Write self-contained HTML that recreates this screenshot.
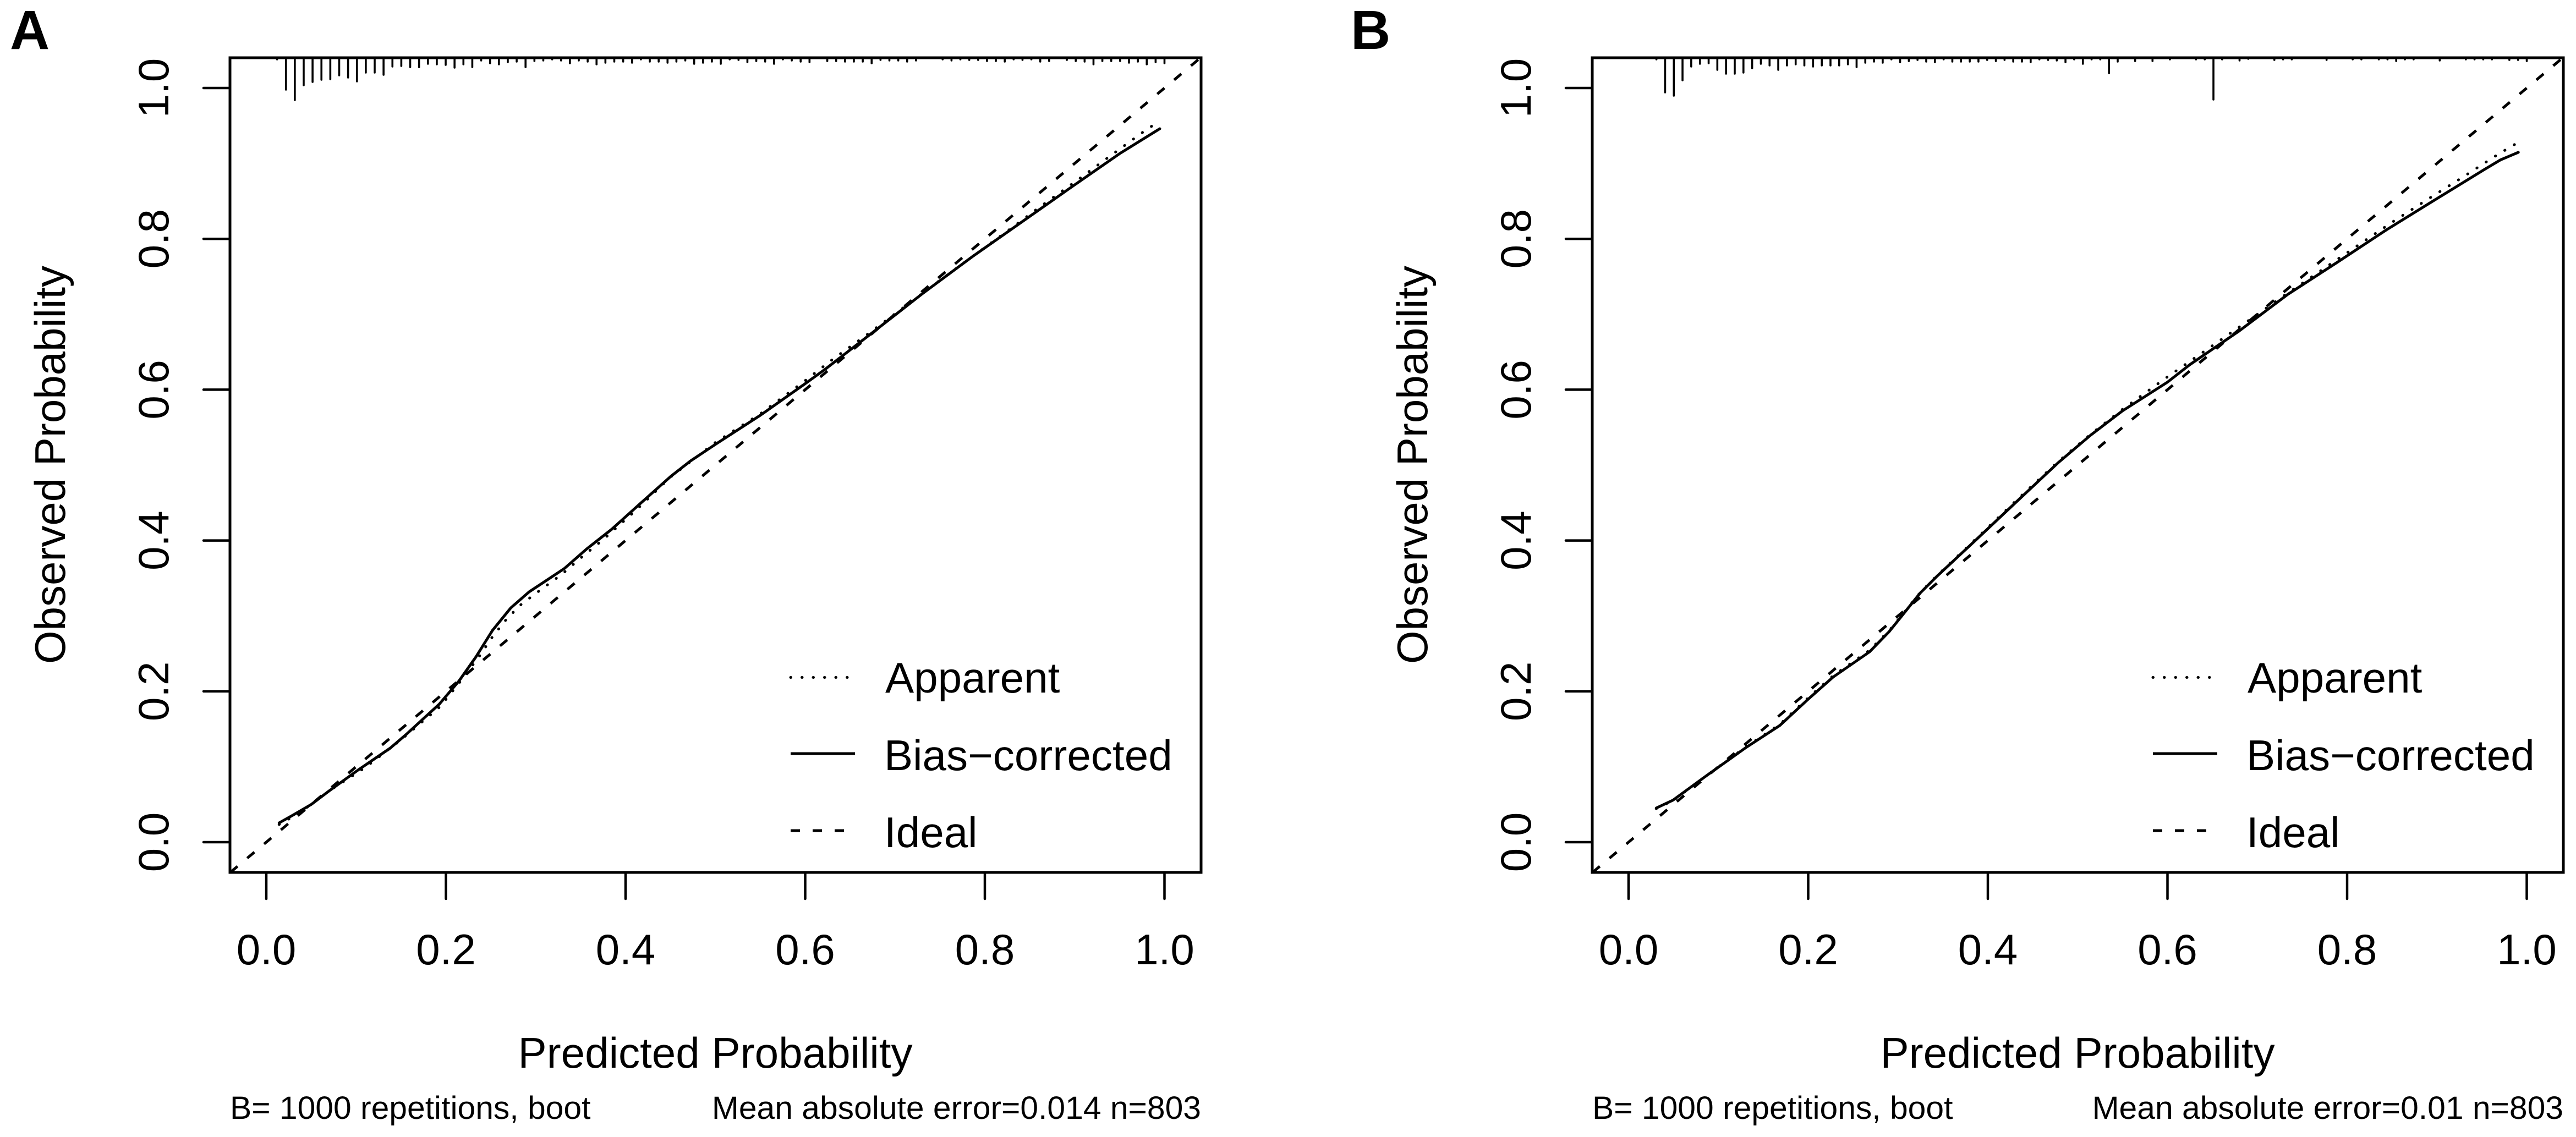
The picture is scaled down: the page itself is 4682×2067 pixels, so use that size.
<!DOCTYPE html>
<html lang="en">
<head>
<meta charset="utf-8">
<title>Calibration curves A and B</title>
<style>
  html, body { margin: 0; padding: 0; background: #fff; }
  svg { display: block; }
  text { font-family: "Liberation Sans", Arial, sans-serif; fill: #000; }
</style>
</head>
<body>
<svg id="chart" xmlns="http://www.w3.org/2000/svg" width="4682" height="2067" viewBox="0 0 4682 2067">
  <rect x="0" y="0" width="4682" height="2067" fill="#fff"/>

  <text x="18" y="89" font-size="100" font-weight="700">A</text>
  <g id="panel-a">
    <text x="1300" y="1941" font-size="78.2" text-anchor="middle">Predicted Probability</text>
    <text transform="translate(118 845) rotate(-90)" font-size="78" text-anchor="middle">Observed Probability</text>
    <text x="418" y="2034" font-size="58.8">B= 1000 repetitions, boot</text>
    <text x="2183" y="2034" font-size="58.8" text-anchor="end">Mean absolute error=0.014 n=803</text>
    <g>
      <line x1="1437" x2="1554" y1="1231.5" y2="1231.5" stroke="#000" stroke-width="5" stroke-linecap="round" stroke-dasharray="0.5 20"/>
      <text x="1609" y="1259" font-size="78.2">Apparent</text>
      <line x1="1437" x2="1554" y1="1370" y2="1370" stroke="#000" stroke-width="5"/>
      <text x="1607" y="1400" font-size="78.2">Bias−corrected</text>
      <line x1="1437" x2="1554" y1="1510" y2="1510" stroke="#000" stroke-width="5" stroke-dasharray="17 23"/>
      <text x="1607" y="1540" font-size="78.2">Ideal</text>
    </g>
  </g>

  <text x="2455" y="89" font-size="100" font-weight="700">B</text>
  <g id="panel-b" transform="translate(2476 0)">
    <text x="1300" y="1941" font-size="78.2" text-anchor="middle">Predicted Probability</text>
    <text transform="translate(118 845) rotate(-90)" font-size="78" text-anchor="middle">Observed Probability</text>
    <text x="418" y="2034" font-size="58.8">B= 1000 repetitions, boot</text>
    <text x="2183" y="2034" font-size="58.8" text-anchor="end">Mean absolute error=0.01 n=803</text>
    <g>
      <line x1="1437" x2="1554" y1="1231.5" y2="1231.5" stroke="#000" stroke-width="5" stroke-linecap="round" stroke-dasharray="0.5 20"/>
      <text x="1609" y="1259" font-size="78.2">Apparent</text>
      <line x1="1437" x2="1554" y1="1370" y2="1370" stroke="#000" stroke-width="5"/>
      <text x="1607" y="1400" font-size="78.2">Bias−corrected</text>
      <line x1="1437" x2="1554" y1="1510" y2="1510" stroke="#000" stroke-width="5" stroke-dasharray="17 23"/>
      <text x="1607" y="1540" font-size="78.2">Ideal</text>
    </g>
  </g>
</svg>

<script>
// ----- shared axis data -----
const tickValues = [0, 0.2, 0.4, 0.6, 0.8, 1];
const tickLabels = ["0.0", "0.2", "0.4", "0.6", "0.8", "1.0"];
const ideal = [-0.04, 1.04];

// ----- panel A data -----
const biasAx = [0.0143,0.03,0.05,0.07,0.102,0.138,0.155,0.1926,0.2145,0.2335,0.2518,0.2723,0.2926,0.3317,0.3567,0.3847,0.416,0.4503,0.4723,0.4999,0.55,0.6,0.6224,0.677,0.7318,0.7866,0.8411,0.8956,0.9507,0.9948];
const biasAy = [0.0255,0.036,0.05,0.068,0.0955,0.1247,0.142,0.183,0.2137,0.2458,0.2808,0.3107,0.3319,0.3627,0.3888,0.415,0.4486,0.485,0.5055,0.5274,0.566,0.608,0.6273,0.6776,0.7285,0.7768,0.8223,0.868,0.9135,0.946];
const apparentAx = [0.0143,0.03,0.05,0.07,0.1096,0.1476,0.1933,0.216,0.2372,0.2508,0.2655,0.282,0.301,0.3297,0.3482,0.3755,0.4114,0.45,0.5,0.55,0.6,0.6292,0.6683,0.707,0.7455,0.784,0.8227,0.8606,0.8998,0.9383,0.977,0.9948];
const apparentAy = [0.0235,0.034,0.05,0.068,0.0985,0.1335,0.1794,0.213,0.2465,0.2706,0.293,0.3136,0.3307,0.3558,0.375,0.4017,0.44,0.484,0.53,0.568,0.612,0.639,0.6725,0.7068,0.7411,0.7746,0.8082,0.8417,0.875,0.9088,0.9424,0.9565];
const rugA = [3,58,77,50,44,40,39,32,36,43,27,27,31,16,15,17,17,11,12,13,18,12,17,5,10,12,8,7,17,6,5,3,5,10,5,7,12,9,7,7,9,3,7,7,9,7,5,11,9,7,11,3,4,8,6,7,11,3,5,7,8,0,6,6,7,7,7,10,4,5,5,7,5,0,0,3,5,3,4,4,6,6,7,3,4,3,7,6,0,4,6,7,12,6,6,6,9,7,12,8,10];
const rugRangeA = [0.012, 1];

// ----- panel B data -----
const biasBx = [0.0308,0.0495,0.087,0.1308,0.1683,0.201,0.2276,0.2683,0.2902,0.3247,0.3431,0.3871,0.4307,0.4778,0.5146,0.55,0.6,0.6248,0.6795,0.7341,0.7889,0.8436,0.8981,0.9532,0.9707,0.9906];
const biasBy = [0.0452,0.0557,0.0883,0.1255,0.1546,0.1907,0.2188,0.2524,0.2793,0.3304,0.3523,0.4012,0.45,0.5026,0.5398,0.572,0.61,0.6331,0.6776,0.7265,0.7688,0.8118,0.8519,0.8923,0.9047,0.9147];
const apparentBx = [0.0308,0.0495,0.087,0.1308,0.1683,0.201,0.2276,0.2683,0.2902,0.3247,0.3431,0.3871,0.4307,0.4778,0.5146,0.55,0.6,0.631,0.6803,0.7293,0.769,0.8084,0.8482,0.8881,0.9287,0.9686,0.9906];
const apparentBy = [0.0445,0.055,0.0885,0.1265,0.156,0.1925,0.2205,0.2545,0.2805,0.331,0.353,0.4025,0.452,0.504,0.541,0.574,0.617,0.6426,0.6834,0.7243,0.7564,0.7885,0.8206,0.8512,0.8818,0.9125,0.928];
const rugB = [3,63,69,41,16,11,10,22,29,29,27,19,11,14,22,14,12,14,16,14,14,14,12,17,9,7,9,3,8,6,4,7,8,3,7,7,7,7,4,6,4,7,7,8,3,4,5,8,3,11,3,3,28,7,0,6,0,6,0,3,0,0,3,3,76,3,0,5,2,0,0,4,3,3,0,0,0,4,0,0,3,3,0,3,3,6,3,3,0,0,5,0,0,3,3,3,3,0,4,4,6];
const rugRangeB = [0.031, 1];

// ----- axis functions (shared by both panels; panel B is a translated group) -----
const SVGNS = "http://www.w3.org/2000/svg";
const frame = { left: 418, right: 2183, top: 105, bottom: 1586 };
function xScale(v) { return 484 + 1632.5 * v; }
function yScale(v) { return 1531 - 1371 * v; }
function make(tag, attrs) {
  const el = document.createElementNS(SVGNS, tag);
  Object.keys(attrs).forEach(function (k) { el.setAttribute(k, attrs[k]); });
  return el;
}
function pointString(xs, ys) {
  return xs.map(function (x, i) { return xScale(x).toFixed(1) + "," + yScale(ys[i]).toFixed(1); }).join(" ");
}

function drawPanel(groupId, suffix, series) {
  const g = document.getElementById(groupId);

  // frame
  const box = make("rect", { x: frame.left, y: frame.top, width: frame.right - frame.left, height: frame.bottom - frame.top, fill: "none", stroke: "#000", "stroke-width": 5 });
  
  
  g.appendChild(box);

  // x ticks and labels
  tickValues.forEach(function (v, i) {
    const t = make("line", { x1: xScale(v), x2: xScale(v), y1: frame.bottom, y2: frame.bottom + 48, stroke: "#000", "stroke-width": 4.5, "stroke-linecap": "round" });
    
    
    g.appendChild(t);
    const l = make("text", { x: xScale(v), y: 1753, "font-size": 78, "text-anchor": "middle" });
    
    
    l.textContent = tickLabels[i];
    g.appendChild(l);
  });

  // y ticks and labels
  tickValues.forEach(function (v, i) {
    const t = make("line", { x1: frame.left - 48, x2: frame.left, y1: yScale(v), y2: yScale(v), stroke: "#000", "stroke-width": 4.5, "stroke-linecap": "round" });
    
    
    g.appendChild(t);
    const l = make("text", { transform: "translate(306 " + yScale(v) + ") rotate(-90)", "font-size": 78, "text-anchor": "middle" });
    
    
    l.textContent = tickLabels[i];
    g.appendChild(l);
  });

  // rug of predicted probabilities along the top edge
  const n = series.rug.length;
  series.rug.forEach(function (value, k) {
    if (value <= 0) return;
    const px = xScale(series.rugRange[0] + (series.rugRange[1] - series.rugRange[0]) * k / (n - 1));
    const r = make("line", { x1: px, x2: px, y1: frame.top, y2: frame.top + value, stroke: "#000", "stroke-width": 3.6, "stroke-linecap": "round" });
    
    
    g.appendChild(r);
  });

  // ideal diagonal
  const d = make("line", { x1: xScale(ideal[0]), y1: yScale(ideal[0]), x2: xScale(ideal[1]), y2: yScale(ideal[1]), stroke: "#000", "stroke-width": 5, "stroke-dasharray": "17 23" });
  
  
  g.appendChild(d);

  // apparent curve
  const a = make("polyline", { points: pointString(series.apparentX, series.apparentY), fill: "none", stroke: "#000", "stroke-width": 5, "stroke-linecap": "round", "stroke-dasharray": "0.5 19.5" });
  
  
  g.appendChild(a);

  // bias-corrected curve
  const b = make("polyline", { points: pointString(series.biasX, series.biasY), fill: "none", stroke: "#000", "stroke-width": 5, "stroke-linejoin": "round", "stroke-linecap": "round" });
  
  
  g.appendChild(b);
}

drawPanel("panel-a", "a", { biasX: biasAx, biasY: biasAy, apparentX: apparentAx, apparentY: apparentAy, rug: rugA, rugRange: rugRangeA });
drawPanel("panel-b", "b", { biasX: biasBx, biasY: biasBy, apparentX: apparentBx, apparentY: apparentBy, rug: rugB, rugRange: rugRangeB });
</script>
</body>
</html>
